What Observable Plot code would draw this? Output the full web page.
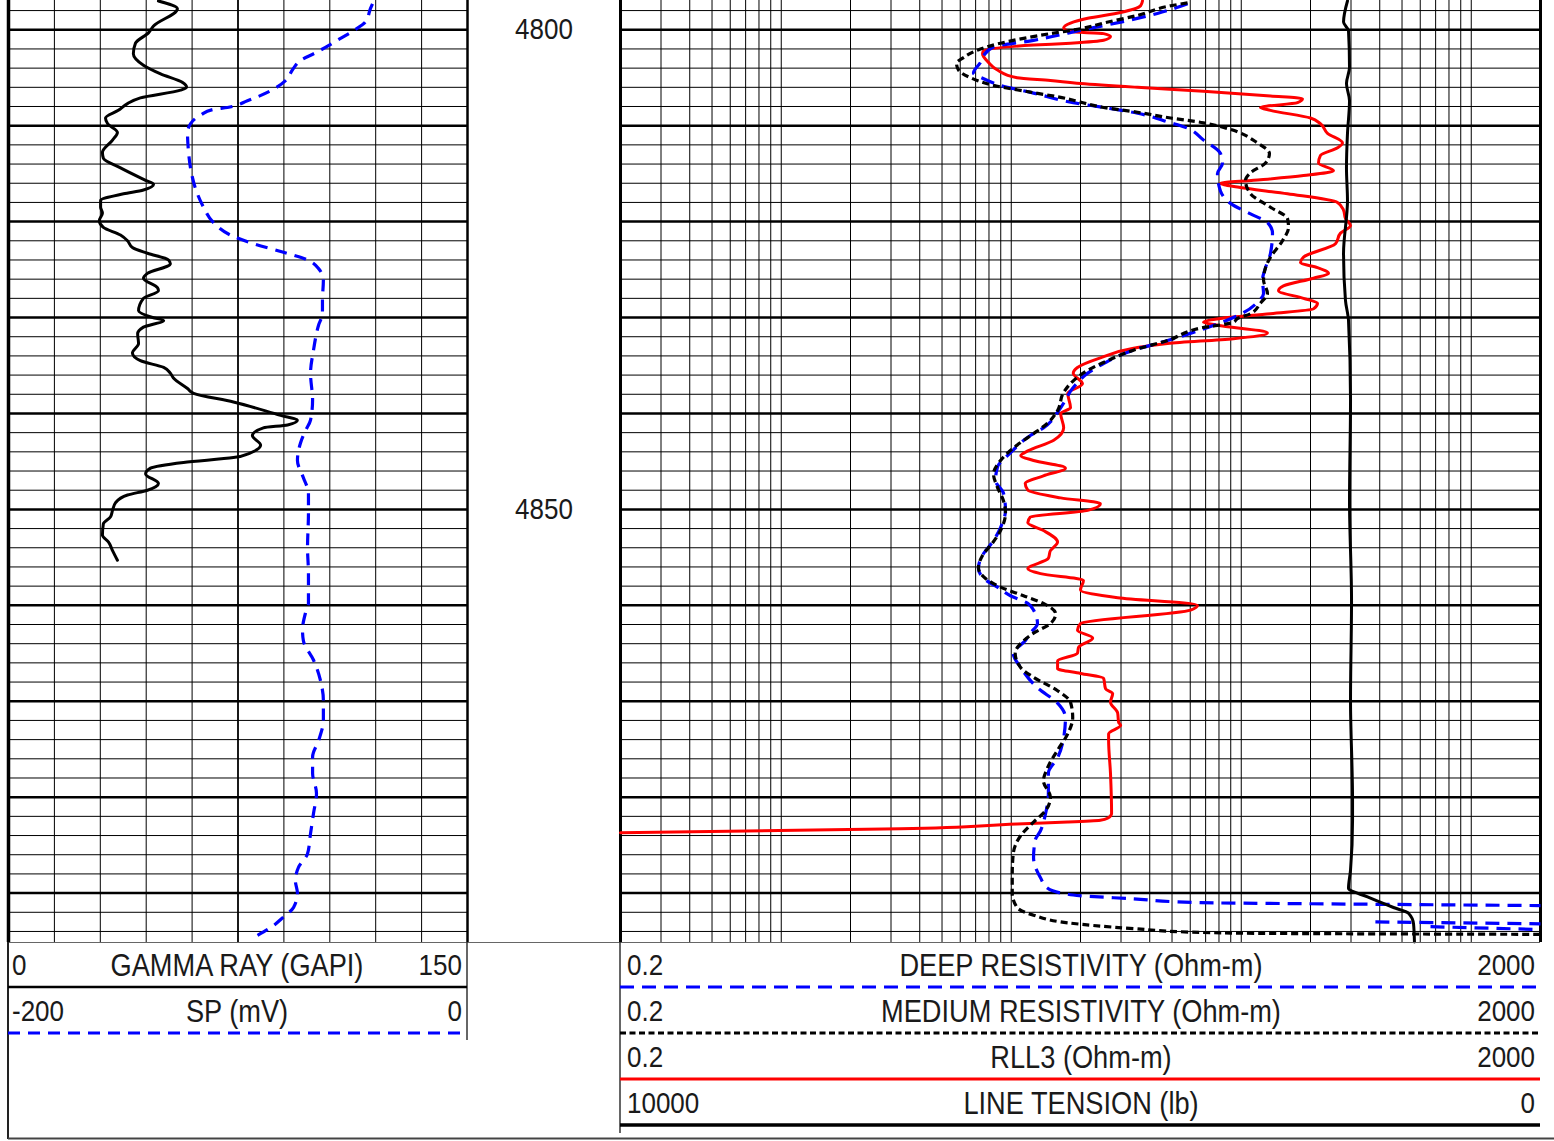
<!DOCTYPE html>
<html><head><meta charset="utf-8">
<script src="https://cdn.jsdelivr.net/npm/d3@7"></script>
<script src="https://cdn.jsdelivr.net/npm/@observablehq/plot@0.6"></script>
<style>
html,body{margin:0;padding:0;background:#fff;overflow:hidden;}
#chart{position:relative;width:1554px;height:1141px;background:#fff;}
#chart svg{position:absolute;left:0;top:0;max-width:none;}
</style></head><body><div id="chart"></div>
<script>
// ---------------- DATA ----------------
const grDepth = [4797.0,4797.8,4799.6,4800.3,4801.4,4802.5,4803.7,4804.6,4805.5,4806.0,4806.3,4807.1,4807.7,4808.4,4809.2,4809.8,4810.7,4811.5,4812.8,4813.4,4814.4,4815.7,4816.1,4816.7,4817.1,4817.8,4818.5,4819.1,4819.9,4820.6,4821.4,4822.0,4822.7,4823.3,4824.0,4824.4,4825.4,4825.9,4826.9,4827.2,4828.0,4829.3,4830.0,4830.3,4831.0,4831.7,4832.7,4833.7,4834.5,4835.2,4835.8,4836.3,4837.4,4837.9,4838.8,4840.2,4840.7,4841.2,4841.5,4842.3,4843.3,4844.1,4844.6,4845.1,4845.7,4846.3,4847.3,4848.0,4848.5,4849.3,4850.1,4850.8,4851.5,4852.7,4853.4,4854.3,4855.3];
const gammaRay = [49.0,55.2,47.4,45.8,41.5,40.8,44.1,49.7,56.9,58.2,56.2,43.1,38.9,35.9,31.7,32.4,35.6,34.0,30.7,31.0,36.6,44.8,47.4,44.1,37.6,30.1,30.1,30.7,29.7,31.0,36.6,38.9,40.5,45.4,52.3,52.9,45.4,44.1,48.7,49.0,44.1,42.5,47.1,50.7,44.1,42.2,42.5,40.5,43.1,50.7,52.9,53.9,58.5,60.5,73.5,88.9,94.4,91.2,83.3,79.7,82.4,79.1,73.5,57.2,46.4,44.8,49.0,45.4,38.9,35.0,34.0,33.3,31.0,30.7,32.7,34.0,35.6];

const spDepth = [4797.3,4797.8,4799.2,4800.1,4801.1,4802.4,4803.2,4804.0,4805.3,4806.2,4807.4,4808.1,4808.3,4808.9,4809.8,4810.8,4812.6,4814.4,4817.1,4818.5,4820.1,4821.4,4822.3,4823.2,4824.0,4824.9,4826.1,4828.2,4829.6,4830.8,4833.4,4835.8,4838.6,4840.7,4841.8,4843.1,4844.9,4846.7,4848.3,4850.4,4854.0,4856.7,4859.8,4860.8,4862.6,4863.7,4865.7,4867.8,4869.9,4872.0,4874.1,4875.8,4877.5,4879.6,4881.7,4883.8,4885.9,4887.3,4888.7,4890.0,4891.5,4892.5,4893.6,4894.4];
const spValue = [-41.4,-42.3,-44.5,-49.7,-56.7,-66.2,-72.8,-75.8,-79.3,-84.5,-95.9,-104.6,-110.7,-116.3,-120.7,-122.0,-121.6,-120.7,-117.7,-115.0,-110.7,-103.3,-93.3,-80.2,-69.7,-64.9,-62.8,-63.2,-63.2,-64.9,-67.1,-68.4,-67.5,-68.4,-70.6,-72.8,-74.1,-71.5,-69.3,-69.3,-69.7,-69.3,-69.3,-70.6,-71.9,-71.5,-67.1,-64.1,-62.8,-62.8,-64.9,-67.5,-67.5,-65.8,-67.1,-68.4,-69.7,-73.6,-75.0,-74.1,-75.8,-80.2,-85.8,-91.5];

const deepDepth = [4797.3,4798.3,4799.2,4799.9,4801.1,4801.8,4802.7,4803.4,4804.5,4805.1,4805.8,4806.6,4807.6,4808.1,4808.7,4809.7,4810.1,4811.5,4812.9,4813.9,4815.0,4816.8,4818.1,4819.2,4820.1,4821.2,4823.3,4824.8,4826.1,4827.5,4828.4,4829.5,4830.0,4831.3,4832.4,4833.4,4834.8,4835.8,4837.3,4839.4,4841.5,4842.3,4844.1,4845.6,4847.0,4848.3,4850.1,4851.9,4853.4,4854.6,4856.1,4857.2,4858.1,4859.0,4859.8,4860.5,4861.9,4862.9,4863.7,4865.0,4866.5,4868.6,4870.2,4871.7,4873.8,4875.9,4877.5,4879.6,4881.7,4883.5,4884.5,4886.3,4888.4,4889.5,4890.2,4890.6,4891.0,4891.1,4891.3];
const deepRes = [58.4,43.2,29.9,21.5,12.5,8.37,7.58,7.35,6.85,7.58,8.98,12.5,18.6,25.2,35.4,49.3,56.1,68.5,81.2,82.9,78.8,81.2,89.8,109.7,130.0,136.7,134.0,127.5,123.7,125.0,117.7,102.2,92.5,66.5,47.8,34.0,25.2,21.5,18.6,16.4,13.8,12.1,9.92,8.71,8.54,9.25,9.44,8.98,8.29,7.58,7.20,7.58,8.71,9.92,11.8,12.5,13.0,12.1,11.5,10.2,11.0,13.0,15.9,17.2,16.9,15.9,14.5,14.5,14.1,13.4,12.7,12.5,13.4,14.4,18.6,34.0,66.5,180.9,2000];
const deepWrapDepth = [4893.0,4893.2,4893.5,4893.8];
const deepWrapRes = [383,2000,665,2000];
const deepWrapSeg = [1,1,2,2];

const medDepth = [4797.2,4797.5,4798.5,4799.3,4799.9,4800.4,4801.4,4802.0,4802.9,4803.5,4804.2,4805.0,4805.8,4806.5,4807.2,4807.4,4808.1,4808.6,4809.2,4809.7,4810.3,4811.8,4812.9,4813.9,4814.9,4815.7,4817.1,4818.5,4819.7,4820.6,4822.0,4823.7,4824.8,4826.1,4827.5,4828.5,4829.6,4830.1,4830.5,4831.1,4832.4,4833.4,4834.5,4835.5,4836.6,4837.8,4839.7,4841.0,4842.1,4843.3,4844.9,4846.3,4847.7,4849.1,4850.4,4852.2,4853.5,4854.8,4856.1,4857.2,4858.1,4859.0,4859.8,4860.9,4861.9,4862.9,4863.7,4865.0,4866.5,4867.5,4868.9,4870.1,4871.7,4873.4,4875.1,4876.9,4878.3,4880.0,4881.4,4882.6,4884.0,4885.9,4888.0,4890.0,4891.5,4892.3,4893.1,4893.7,4894.1,4894.2,4894.3];
const medRes = [58.4,49.3,35.4,25.2,20.0,14.8,8.98,7.35,6.20,5.78,5.90,6.65,8.37,12.1,17.6,19.0,25.2,35.4,49.3,68.5,87.1,117.7,132.6,127.5,109.7,104.3,109.7,134.0,158.9,160.5,151.1,134.0,127.5,125.0,130.0,121.2,109.7,96.3,92.5,66.5,47.8,34.0,26.2,21.5,18.6,16.9,15.9,14.4,12.5,10.6,8.98,8.37,8.71,9.25,9.44,8.98,8.29,7.50,7.20,7.73,8.98,11.3,13.8,15.6,14.8,12.5,11.3,10.4,11.0,12.5,15.9,18.1,18.5,17.6,15.9,14.4,13.8,14.8,14.1,12.5,11.0,10.2,10.1,10.1,10.6,12.5,17.6,34.0,66.5,130.0,2000];

const rllDepth = [4797.0,4797.5,4798.2,4798.8,4799.3,4799.8,4800.2,4800.4,4800.7,4801.1,4801.4,4801.6,4802.2,4802.5,4803.4,4804.2,4805.0,4805.3,4805.6,4806.0,4806.4,4806.9,4807.2,4807.6,4808.1,4808.4,4809.2,4809.8,4810.8,4811.8,4812.3,4813.1,4813.9,4814.7,4815.2,4815.7,4816.0,4816.4,4817.1,4818.0,4818.8,4819.7,4820.4,4821.2,4822.3,4823.7,4824.3,4824.8,4825.4,4825.9,4826.7,4827.2,4828.0,4828.5,4829.1,4829.6,4830.1,4830.5,4830.8,4831.6,4832.2,4832.7,4833.2,4834.2,4835.2,4835.8,4836.9,4837.9,4839.4,4840.0,4841.5,4842.8,4843.9,4844.4,4844.9,4845.7,4846.5,4847.3,4848.0,4848.8,4849.4,4850.1,4850.8,4851.4,4852.2,4853.4,4854.3,4855.1,4856.2,4856.7,4857.4,4858.4,4859.2,4860.0,4860.5,4861.9,4862.6,4863.4,4864.4,4865.0,4865.8,4866.6,4867.1,4867.6,4868.7,4869.2,4870.1,4871.2,4872.2,4872.5,4873.4,4874.1,4877.5,4881.7,4882.2,4882.4,4882.6,4882.8,4883.3,4883.7];
const rll3 = [37.2,36.5,29.9,21.5,18.1,16.9,18.1,25.2,27.0,25.2,18.1,12.5,7.58,7.50,7.96,8.71,10.6,14.8,20.0,35.4,68.5,134.0,184.6,175.6,121.2,134.0,200,221,237.1,275.5,262.1,221,216.7,251.8,186.5,113.0,81.2,96.3,158.9,262.1,278.3,284,298.5,270.1,256.9,186.5,180.9,214.5,239.5,206.1,152.6,145.2,186.5,214.5,206.1,134.0,81.2,68.5,78.8,130.0,92.5,47.8,34.0,24.4,19.4,18.6,20.4,17.6,18.1,16.4,16.9,15.3,11.8,11.0,12.5,17.2,13.8,11.5,11.8,16.4,24.4,21.5,12.1,11.8,13.8,15.9,14.8,14.5,11.8,13.4,20.6,20.0,29.0,64.5,60.2,20.0,19.4,22.6,19.6,19.4,15.9,15.9,20.0,25.2,25.7,27.6,27.0,29.0,29.3,29.9,26.5,26.5,27.0,27.3,26.2,24.4,17.6,10.6,3.30,0.2];

const tenDepth = [4797.0,4799.2,4800.1,4803.9,4805.6,4807.4,4810.8,4814.4,4817.8,4823.3,4828.2,4830.3,4838.6,4849.1,4859.5,4869.9,4880.3,4882.4,4887.6,4889.5,4890.4,4891.5,4892.1,4893.2,4895.1];
const tension = [2098,2141,2087,2076,2109,2076,2098,2109,2098,2141,2120,2087,2065,2076,2054,2065,2043,2043,2065,2087,1880,1598,1435,1380,1370];

const depthLabels = [4800, 4850];
const grTicks = [0,15,30,45,60,75,90,105,120,135,150];
const resTicks = [0.2,0.3,0.4,0.5,0.6,0.7,0.8,0.9,1,2,3,4,5,6,7,8,9,10,20,30,40,50,60,70,80,90,100,200,300,400,500,600,700,800,900,1000,2000];
const minorDepths = d3.range(4798, 4895, 2).filter(d => d % 10 !== 0);
const majorDepths = d3.range(4800, 4895, 10);

const legendLeft = [
  {lo: "0", name: "GAMMA RAY (GAPI)", hi: "150"},
  {lo: "-200", name: "SP (mV)", hi: "0"}
];
const legendRight = [
  {lo: "0.2", name: "DEEP RESISTIVITY (Ohm-m)", hi: "2000"},
  {lo: "0.2", name: "MEDIUM RESISTIVITY (Ohm-m)", hi: "2000"},
  {lo: "0.2", name: "RLL3 (Ohm-m)", hi: "2000"},
  {lo: "10000", name: "LINE TENSION (lb)", hi: "0"}
];

// ---------------- BUILD ----------------
const zip = (ds, vs, extra) => ds.map((d, i) => ({d, v: vs[i], s: extra ? extra[i] : 0}));
const chart = document.getElementById("chart");
const W = 1554, H = 942, TOP = 4796.95, BOT = 4895.15;
const FONT = "Liberation Sans, Arial, sans-serif";

function layer(xScale, marks) {
  const svg = Plot.plot({
    width: W, height: H,
    marginTop: 0, marginRight: 0, marginBottom: 0, marginLeft: 0,
    x: {...xScale, axis: null},
    y: {domain: [TOP, BOT], range: [0, H], axis: null},
    style: {background: "transparent", overflow: "visible"},
    marks
  });
  svg.style.position = "absolute"; svg.style.left = "0"; svg.style.top = "0";
  chart.appendChild(svg);
  return svg;
}

// Left track: grid + gamma ray
layer({domain: [0, 150], range: [8, 467]}, [
  Plot.ruleY(minorDepths, {y: d => d, x1: 0, x2: 150, stroke: "#000", strokeWidth: 1}),
  Plot.ruleY(majorDepths, {y: d => d, x1: 0, x2: 150, stroke: "#000", strokeWidth: 2.5}),
  Plot.ruleX(grTicks, {x: d => d, stroke: "#000",
    strokeWidth: d => d === 0 ? 3.5 : d === 150 ? 2.5 : d === 75 ? 1.8 : 1}),
  Plot.line(zip(grDepth, gammaRay), {x: "v", y: "d", stroke: "#000", strokeWidth: 3, curve: "monotone-y"})
]);
// SP
layer({domain: [-200, 0], range: [8, 467]}, [
  Plot.line(zip(spDepth, spValue), {x: "v", y: "d", stroke: "#0000ff", strokeWidth: 3.2,
    strokeDasharray: "12,8", strokeLinecap: "butt", curve: "monotone-y"})
]);
// Depth track labels
const depthSvg = layer({domain: [0, 1], range: [467, 620]}, [
  Plot.text(depthLabels, {x: 0.5, y: d => d, text: d => String(d), fontSize: 26,
    fontFamily: FONT, fill: "#1a1a1a"})
]);
d3.select(depthSvg).selectAll("text").each(function() {
  const t = this.getAttribute("transform") || "";
  this.setAttribute("transform", t + " scale(1,1.13)");
});
// Right track: grid + resistivities
layer({type: "log", domain: [0.2, 2000], range: [620, 1540]}, [
  Plot.ruleY(minorDepths, {y: d => d, x1: 0.2, x2: 2000, stroke: "#000", strokeWidth: 1}),
  Plot.ruleY(majorDepths, {y: d => d, x1: 0.2, x2: 2000, stroke: "#000", strokeWidth: 2.5}),
  Plot.ruleX(resTicks, {x: d => d, stroke: "#000",
    strokeWidth: d => (d === 0.2 || d === 2000) ? 3 : 1}),
  Plot.line(zip(rllDepth, rll3), {x: "v", y: "d", stroke: "#ff0000", strokeWidth: 3, curve: "monotone-y"}),
  Plot.line(zip(deepDepth, deepRes), {x: "v", y: "d", stroke: "#0000ff", strokeWidth: 3.2,
    strokeDasharray: "14,8", strokeLinecap: "butt", curve: "monotone-y"}),
  Plot.line(zip(deepWrapDepth, deepWrapRes, deepWrapSeg), {x: "v", y: "d", z: "s", stroke: "#0000ff", strokeWidth: 3.2,
    strokeDasharray: "14,8", strokeLinecap: "butt"}),
  Plot.line(zip(medDepth, medRes), {x: "v", y: "d", stroke: "#000", strokeWidth: 3.2,
    strokeDasharray: "7,4", strokeLinecap: "butt", curve: "monotone-y"})
]);
// Line tension
layer({domain: [10000, 0], range: [620, 1540]}, [
  Plot.line(zip(tenDepth, tension), {x: "v", y: "d", stroke: "#000", strokeWidth: 3, curve: "monotone-y"})
]);

// ---------------- LEGEND (below the plot) ----------------
const leg = d3.create("svg").attr("width", W).attr("height", 1141 - H)
  .style("position", "absolute").style("left", "0").style("top", H + "px");
const ln = (x1, y1, x2, y2, stroke, w, dash) => {
  const l = leg.append("line").attr("x1", x1).attr("y1", y1).attr("x2", x2).attr("y2", y2)
    .attr("stroke", stroke).attr("stroke-width", w);
  if (dash) l.attr("stroke-dasharray", dash);
};
ln(8, 0.5, 1540, 0.5, "#666", 1);
ln(8, 0, 8, 197, "#222", 2);
ln(8, 196.5, 1554, 196.5, "#444", 2);
ln(467, 0, 467, 98, "#333", 1.5);
ln(620, 0, 620, 191, "#333", 1.5);
ln(8, 45, 467, 45, "#000", 2.5);
ln(8, 91, 467, 91, "#0000ff", 3, "12,8");
ln(620, 45, 1540, 45, "#0000ff", 3, "14,8");
ln(620, 91, 1540, 91, "#000", 3, "6,3.5");
ln(620, 137, 1540, 137, "#ff0000", 3);
ln(620, 183, 1540, 183, "#000", 3.5);

const txt = (x, y, s, anchor, size) => leg.append("text")
  .attr("transform", `translate(${x},${y}) scale(1,1.13)`)
  .attr("text-anchor", anchor).attr("dy", "0.35em")
  .attr("font-family", FONT).attr("font-size", size).attr("fill", "#1a1a1a").text(s);
legendLeft.forEach((r, i) => {
  const y = 23 + i * 46;
  txt(12, y, r.lo, "start", 26); txt(237, y, r.name, "middle", 27.2); txt(462, y, r.hi, "end", 26);
});
legendRight.forEach((r, i) => {
  const y = 23 + i * 46;
  txt(627, y, r.lo, "start", 26); txt(1081, y, r.name, "middle", 27.2); txt(1535, y, r.hi, "end", 26);
});
chart.appendChild(leg.node());
</script></body></html>
